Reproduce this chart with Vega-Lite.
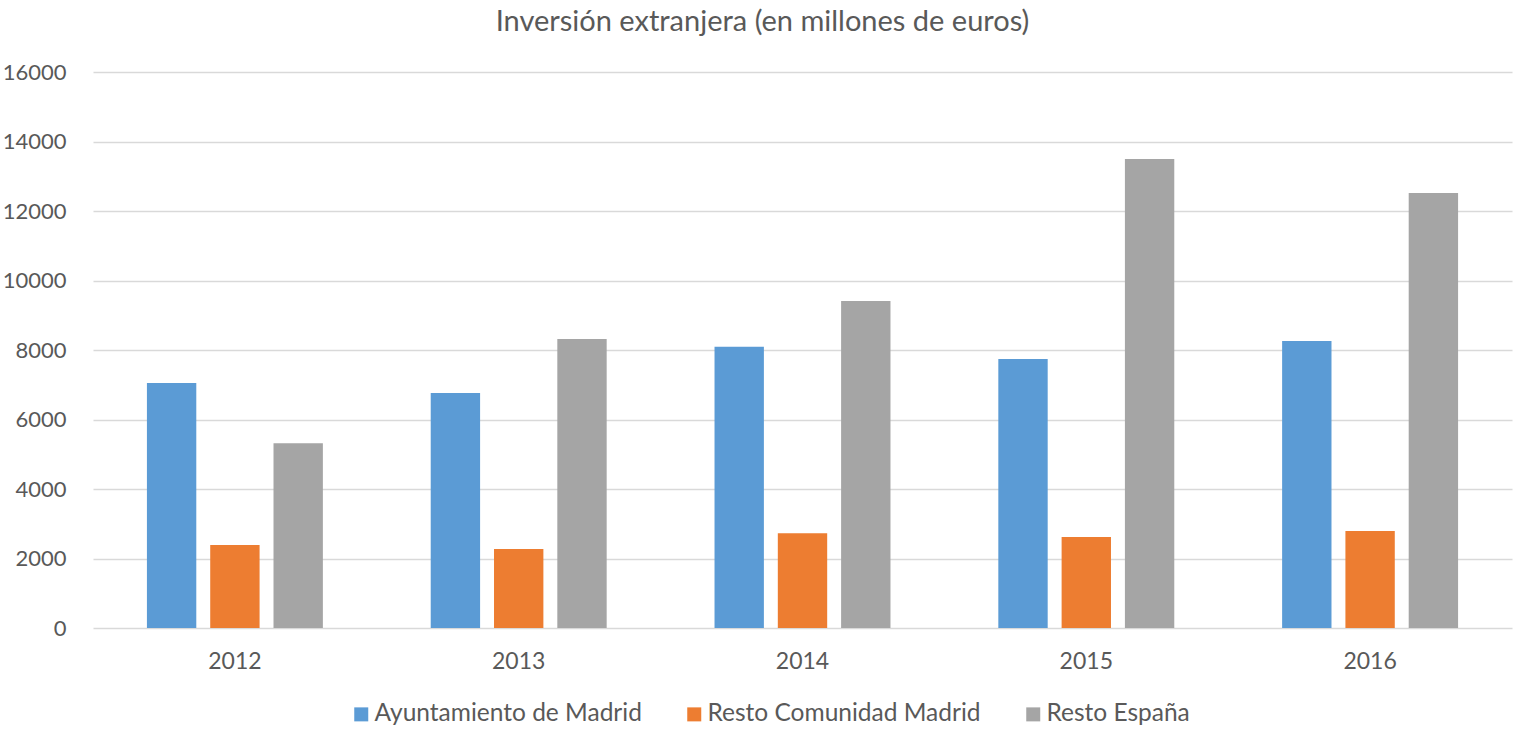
{
  "$schema": "https://vega.github.io/schema/vega-lite/v6.json",
  "width": 1419,
  "height": 556,
  "autosize": {"type": "none"},
  "padding": {"left": 93, "top": 72, "right": 12, "bottom": 115},
  "background": "white",
  "title": {
    "text": "Inversión extranjera (en millones de euros)",
    "font": "Lato",
    "fontSize": 29,
    "fontWeight": "normal",
    "color": "#595959",
    "anchor": "middle",
    "dx": -40,
    "offset": 24
  },
  "data": {
    "values": [
      {"year": "2012", "serie": "Ayuntamiento de Madrid", "value": 7050},
      {"year": "2012", "serie": "Resto Comunidad Madrid", "value": 2390},
      {"year": "2012", "serie": "Resto España", "value": 5320},
      {"year": "2013", "serie": "Ayuntamiento de Madrid", "value": 6760},
      {"year": "2013", "serie": "Resto Comunidad Madrid", "value": 2270},
      {"year": "2013", "serie": "Resto España", "value": 8320},
      {"year": "2014", "serie": "Ayuntamiento de Madrid", "value": 8090},
      {"year": "2014", "serie": "Resto Comunidad Madrid", "value": 2730},
      {"year": "2014", "serie": "Resto España", "value": 9410},
      {"year": "2015", "serie": "Ayuntamiento de Madrid", "value": 7740},
      {"year": "2015", "serie": "Resto Comunidad Madrid", "value": 2620},
      {"year": "2015", "serie": "Resto España", "value": 13500},
      {"year": "2016", "serie": "Ayuntamiento de Madrid", "value": 8260},
      {"year": "2016", "serie": "Resto Comunidad Madrid", "value": 2790},
      {"year": "2016", "serie": "Resto España", "value": 12520}
    ]
  },
  "mark": {"type": "bar"},
  "encoding": {
    "x": {
      "field": "year",
      "type": "nominal",
      "title": null,
      "scale": {"paddingInner": 0.38, "paddingOuter": 0.19},
      "axis": {
        "labelAngle": 0,
        "domain": false,
        "ticks": false,
        "labelPadding": 22,
        "labelFont": "Lato",
        "labelFontSize": 23,
        "labelColor": "#595959"
      }
    },
    "xOffset": {
      "field": "serie",
      "type": "nominal",
      "sort": ["Ayuntamiento de Madrid", "Resto Comunidad Madrid", "Resto España"],
      "scale": {"paddingInner": 0.22, "paddingOuter": 0}
    },
    "y": {
      "field": "value",
      "type": "quantitative",
      "title": null,
      "scale": {"domain": [0, 16000], "nice": false},
      "axis": {
        "values": [0, 2000, 4000, 6000, 8000, 10000, 12000, 14000, 16000],
        "format": "d",
        "domain": false,
        "ticks": false,
        "labelPadding": 27,
        "labelFont": "Lato",
        "labelFontSize": 22,
        "labelColor": "#595959",
        "gridColor": "#D9D9D9",
        "gridWidth": 1.5
      }
    },
    "color": {
      "field": "serie",
      "type": "nominal",
      "sort": ["Ayuntamiento de Madrid", "Resto Comunidad Madrid", "Resto España"],
      "scale": {
        "domain": ["Ayuntamiento de Madrid", "Resto Comunidad Madrid", "Resto España"],
        "range": ["#5B9BD5", "#ED7D31", "#A5A5A5"]
      },
      "legend": {
        "title": null,
        "orient": "none",
        "direction": "horizontal",
        "legendX": 256,
        "legendY": 630,
        "symbolType": "square",
        "symbolSize": 196,
        "symbolStrokeWidth": 0,
        "labelFont": "Lato",
        "labelFontSize": 24.5,
        "labelColor": "#595959",
        "labelOffset": 1,
        "columnPadding": 40,
        "labelLimit": 400
      }
    }
  },
  "config": {
    "view": {"stroke": null}
  }
}
